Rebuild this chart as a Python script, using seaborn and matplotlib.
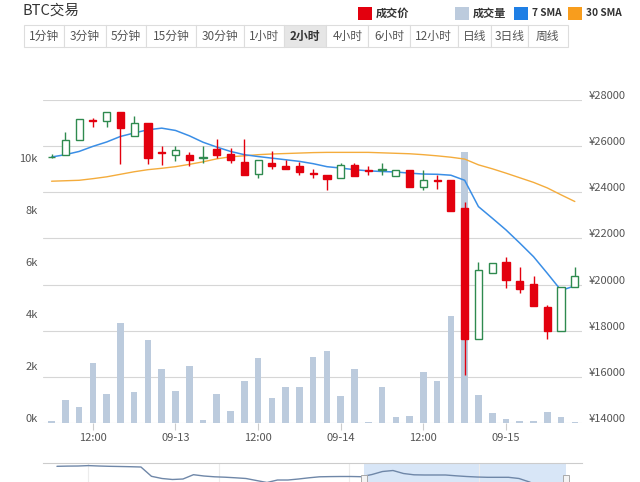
import numpy as np
import pandas as pd
import matplotlib
matplotlib.use("Agg")
import matplotlib.pyplot as plt
import matplotlib.transforms as mtransforms
from matplotlib.patches import Rectangle
import seaborn as sns

# 2h candles
start_time = "2017-09-12 06:00"
opens = [25510, 25630, 26250, 27120, 27100, 27470, 26450, 27000, 25740, 25630,
         25630, 25500, 25870, 25670, 25310, 24790, 25290, 25120, 25120, 24850,
         24760, 24640, 25190, 24980, 24950, 24720, 24980, 24210, 24530, 24540,
         23310, 17630, 20490, 21000, 20170, 20020, 19020, 18000, 19890]
highs = [25640, 26610, 27180, 27220, 27480, 27480, 27320, 27010, 26000, 26000,
         25730, 26000, 26310, 25920, 26310, 25410, 25770, 25380, 25310, 25010,
         24760, 25290, 25290, 25120, 25290, 24980, 24980, 24980, 24760, 24540,
         23600, 21000, 20950, 21210, 20780, 20380, 19120, 19890, 20740]
lows = [25480, 25610, 26250, 26850, 26850, 25230, 26430, 25230, 25180, 25340,
        25160, 25270, 25480, 25270, 24730, 24640, 25020, 25000, 24730, 24620,
        24080, 24640, 24690, 24730, 24760, 24720, 24230, 24110, 24140, 23200,
        16080, 17630, 20490, 19840, 19630, 19090, 17630, 18000, 19890]
closes = [25540, 26270, 27170, 27070, 27460, 26790, 27000, 25480, 25690, 25840,
          25380, 25530, 25630, 25380, 24760, 25410, 25120, 25010, 24900, 24800,
          24590, 25190, 24690, 24930, 25000, 24980, 24230, 24540, 24500, 23200,
          17630, 20610, 20950, 20200, 19810, 19090, 18000, 19890, 20390]
volumes = [80, 880, 630, 2300, 1100, 3860, 1190, 3190, 2090, 1230,
           2190, 120, 1100, 450, 1600, 2500, 950, 1400, 1370, 2530,
           2780, 1020, 2070, 20, 1370, 230, 260, 1970, 1630, 4120,
           10420, 1060, 400, 170, 70, 70, 430, 240, 30]
sma7 = [25530, 25630, 25770, 25990, 26180, 26420, 26570, 26710, 26780, 26680,
        26450, 26170, 25960, 25770, 25630, 25550, 25480, 25410, 25340, 25240,
        25110, 25050, 24980, 24930, 24900, 24880, 24830, 24790, 24780, 24740,
        24520, 23380, 22880, 22370, 21800, 21210, 20490, 19750, 19940]
sma30 = [24480, 24500, 24520, 24590, 24670, 24780, 24890, 24980, 25040, 25110,
         25210, 25320, 25450, 25540, 25580, 25630, 25660, 25680, 25700, 25720,
         25730, 25730, 25730, 25730, 25710, 25690, 25670, 25630, 25580, 25520,
         25440, 25190, 25020, 24830, 24630, 24430, 24190, 23890, 23600]

# overview strip (dataZoom) closes, one point every 4h
nav_price = [29110, 29230, 29280, 29510, 29280, 29110, 29000, 28880, 28710, 23400,
             22150, 21580, 21860, 24320, 23570, 23120, 22890, 22550, 22150, 21000,
             19860, 21290, 21290, 21860, 22550, 23120, 23230, 23290, 23290, 23170,
             24430, 26140, 26710, 25000, 24260, 24150, 24150, 24150, 23690, 23290,
             23000, 22830, 22830, 22830, 22150, 20150, 17290, 15580, 14440]
nav_window = [29.2, 48.5]

price_ticks = [14000, 16000, 18000, 20000, 22000, 24000, 26000, 28000]
volume_ticks = [0, 2000, 4000, 6000, 8000, 10000]
buttons = ["1分钟", "3分钟", "5分钟", "15分钟", "30分钟", "1小时", "2小时",
           "4小时", "6小时", "12小时", "日线", "3日线", "周线"]
selected_button = "2小时"
legend_labels = ["成交价", "成交量", "7 SMA", "30 SMA"]

RED = "#e3000e"
GREEN = "#2f8a4f"
VOL = "#bccbdd"
BLUE = "#3a8ee6"
ORANGE = "#f4ac3c"
legend_colors = [RED, VOL, "#1f7fe5", "#f89d1d"]

times = pd.date_range(start_time, periods=len(closes), freq="2h")
df = pd.DataFrame({"idx": np.arange(len(closes)), "open": opens, "high": highs,
                   "low": lows, "close": closes, "volume": volumes,
                   "sma7": sma7, "sma30": sma30})
nav = pd.DataFrame({"idx": np.arange(len(nav_price)), "price": nav_price})

sns.set_theme(style="white")
plt.rcParams["font.family"] = ["Noto Sans CJK SC", "DejaVu Sans"]

W, H = 640, 482
fig = plt.figure(figsize=(W / 100, H / 100), dpi=100)


def px_rect(x0, y0, x1, y1):
    return [x0 / W, 1 - y1 / H, (x1 - x0) / W, (y1 - y0) / H]


main_rect = px_rect(43.3, 100, 581.7, 423)
ax_p = fig.add_axes(main_rect)                       # price grid + right labels
ax_v = fig.add_axes(main_rect, sharex=ax_p)          # volume bars, left labels
ax_c = fig.add_axes(main_rect, sharex=ax_p, sharey=ax_p)  # candles + SMAs
for a in (ax_v, ax_c):
    a.patch.set_alpha(0)

# volume
sns.barplot(data=df, x="idx", y="volume", ax=ax_v, native_scale=True,
            color=VOL, saturation=1, width=0.48, linewidth=0, errorbar=None)
ax_v.set_ylim(0, 323 / 26 * 1000)
ax_v.set_yticks(volume_ticks)
ax_v.set_yticklabels([f"{v // 1000}k" for v in volume_ticks])
ax_v.tick_params(axis="y", length=0, pad=4, labelsize=8, labelcolor="#555555")
ax_v.tick_params(axis="x", bottom=False, labelbottom=False)
ax_v.set_xlabel("")
ax_v.set_ylabel("")

# moving averages
sns.lineplot(data=df, x="idx", y="sma30", ax=ax_c, color=ORANGE, lw=1.0, zorder=1)
sns.lineplot(data=df, x="idx", y="sma7", ax=ax_c, color=BLUE, lw=1.1, zorder=1)

# candles
for row in df.itertuples():
    up = row.close >= row.open
    col = GREEN if up else RED
    ax_c.vlines(row.idx, row.low, row.high, color=col, lw=1, zorder=2)
    lo, hi = min(row.open, row.close), max(row.open, row.close)
    ax_c.bar(row.idx, max(hi - lo, 30), bottom=lo, width=0.52,
             facecolor="white" if up else col, edgecolor=col, lw=1, zorder=3)
ax_c.axis("off")

# price axis
ax_p.set_ylim(14000, 28000)
ax_p.set_yticks(price_ticks)
ax_p.set_yticklabels([f"¥{p}" for p in price_ticks])
ax_p.yaxis.tick_right()
ax_p.grid(axis="y", color="#d6d6d6", lw=0.8)
ax_p.tick_params(axis="y", length=0, pad=5, labelsize=8, labelcolor="#555555")

tick_idx = [i for i, t in enumerate(times) if t.hour in (0, 12)]
tick_lab = ["12:00" if times[i].hour == 12 else times[i].strftime("%m-%d") for i in tick_idx]
ax_p.set_xticks(tick_idx)
ax_p.set_xticklabels(tick_lab)
ax_p.tick_params(axis="x", bottom=True, length=5, width=0.8, color="#cccccc",
                 pad=2, labelsize=8, labelcolor="#555555")
ax_p.set_xlim(-0.6, len(closes) - 0.5)
for a in (ax_p, ax_v, ax_c):
    for s in a.spines.values():
        s.set_visible(False)

# lift y labels a little above their grid lines
lift = mtransforms.ScaledTranslation(0, 0.05, fig.dpi_scale_trans)
for lbl in ax_p.get_yticklabels() + ax_v.get_yticklabels():
    lbl.set_transform(lbl.get_transform() + lift)

# overview strip at the bottom (cut off by the image edge)
ax_n = fig.add_axes(px_rect(43.3, 463, 581.7, 503))
ax_n.axvspan(*nav_window, color="#d8e6f7", lw=0, zorder=0)
for x in (3, 15.4, 27.8, 40.2):
    ax_n.axvline(x, color="#ececec", lw=0.8, zorder=0)
sns.lineplot(data=nav, x="idx", y="price", ax=ax_n, color="#6f87a8", lw=1, zorder=2)
blend = mtransforms.blended_transform_factory(ax_n.transData, ax_n.transAxes)
for x in nav_window:
    ax_n.add_patch(Rectangle((x - 0.28, 0.28), 0.56, 0.42, transform=blend,
                             facecolor="#f4f4f4", edgecolor="#aaaaaa", lw=0.7, zorder=3))
ax_n.set_xlim(-1.3, 49.97)
ax_n.set_ylim(8160, 31000)
ax_n.set_xticks([])
ax_n.set_yticks([])
ax_n.set_xlabel("")
ax_n.set_ylabel("")
for k, s in ax_n.spines.items():
    s.set_visible(k == "top")
ax_n.spines["top"].set_color("#cccccc")
ax_n.spines["top"].set_linewidth(0.8)

# header: title, period buttons, legend
ov = fig.add_axes([0, 0, 1, 1])
ov.set_xlim(0, W)
ov.set_ylim(H, 0)
ov.axis("off")
ov.patch.set_alpha(0)

ov.text(22, 11, "BTC交易", fontsize=10.5, color="#333333", va="center")

edges = [23.9, 63.8, 105.8, 146.1, 196.3, 243.6, 284, 326.3, 368.3, 409.5,
         458, 491, 527.6, 568]
for lab, x0, x1 in zip(buttons, edges[:-1], edges[1:]):
    sel = lab == selected_button
    ov.add_patch(Rectangle((x0, 25), x1 - x0, 22, facecolor="#e6e6e6" if sel else "white",
                           edgecolor="#dddddd", lw=0.8))
    ov.text((x0 + x1) / 2, 36.5, lab, fontsize=8.5, ha="center", va="center",
            color="#333333" if sel else "#555555", fontweight="bold" if sel else "normal")

leg_x = [358, 455, 514, 568]
for lab, col, x in zip(legend_labels, legend_colors, leg_x):
    ov.add_patch(Rectangle((x, 7), 14, 13, facecolor=col, lw=0))
    size = 8 if lab[0] in "成" else 7.3
    ov.text(x + 18, 13.5, lab, fontsize=size, fontweight="bold", color="#333333", va="center")

fig.savefig("out.png", dpi=100)
